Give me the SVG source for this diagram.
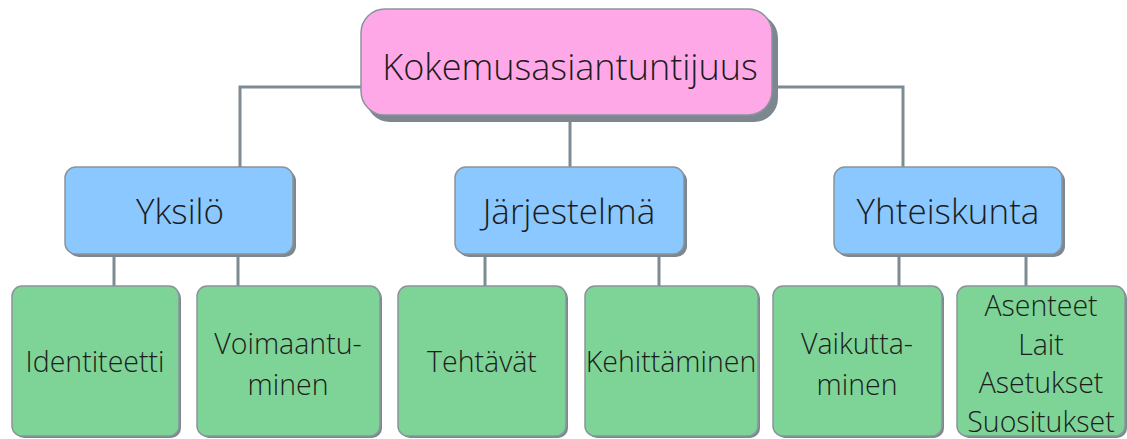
<svg xmlns="http://www.w3.org/2000/svg" width="1127" height="439" viewBox="0 0 1127 439">
<style>
.t{font-family:"Open Sans","Liberation Sans",sans-serif;font-weight:300;fill:#1c1c1c;text-anchor:middle}
.sh{fill:#7c8790}
.bd{stroke:#8a949c;stroke-width:1.5}
.root{fill:#FFA8E8}
.l2{fill:#8AC8FF}
.l3{fill:#7ED396}
.c{fill:none;stroke:#7f8b94;stroke-width:3}
.f3{font-size:28.5px}
.f2{font-size:35px}
</style>
<g id="connectors">
<path class="c" d="M362 87H240V168"/>
<path class="c" d="M772 87H903V168"/>
<path class="c" d="M570 115V168"/>
<path class="c" d="M114 254V287M238 254V287"/>
<path class="c" d="M485 254V287M659 254V287"/>
<path class="c" d="M899 254V287M1026 254V287"/>
</g>
<g id="root">
<rect class="sh" x="366" y="14" width="412" height="108" rx="24"/>
<rect class="root bd" x="361" y="9" width="411" height="106" rx="24"/>
<text class="t" x="570" y="80" font-size="36">Kokemusasiantuntijuus</text>
</g>
<g id="yksilo">
<rect class="sh" x="68" y="170" width="228" height="87" rx="11"/>
<rect class="l2 bd" x="65" y="167" width="228" height="87" rx="11"/>
<text class="t f2" x="180" y="224">Yksilö</text>
</g>
<g id="jarjestelma">
<rect class="sh" x="458" y="170" width="229" height="87" rx="11"/>
<rect class="l2 bd" x="455" y="167" width="229" height="87" rx="11"/>
<text class="t f2" x="569" y="224">Järjestelmä</text>
</g>
<g id="yhteiskunta">
<rect class="sh" x="837" y="170" width="228" height="87" rx="11"/>
<rect class="l2 bd" x="834" y="167" width="228" height="87" rx="11"/>
<text class="t f2" x="948" y="224">Yhteiskunta</text>
</g>
<g id="identiteetti">
<rect class="sh" x="14" y="288" width="167" height="150" rx="10"/>
<rect class="l3 bd" x="12" y="286" width="167" height="150" rx="10"/>
<text class="t f3" x="95" y="372">Identiteetti</text>
</g>
<g id="voimaantuminen">
<rect class="sh" x="199" y="288" width="183" height="150" rx="10"/>
<rect class="l3 bd" x="197" y="286" width="183" height="150" rx="10"/>
<text class="t f3" x="288" y="354">Voimaantu-</text>
<text class="t f3" x="288" y="395">minen</text>
</g>
<g id="tehtavat">
<rect class="sh" x="400" y="288" width="168" height="150" rx="10"/>
<rect class="l3 bd" x="398" y="286" width="168" height="150" rx="10"/>
<text class="t f3" x="482" y="372">Tehtävät</text>
</g>
<g id="kehittaminen">
<rect class="sh" x="587" y="288" width="173" height="150" rx="10"/>
<rect class="l3 bd" x="585" y="286" width="173" height="150" rx="10"/>
<text class="t f3" x="671" y="372">Kehittäminen</text>
</g>
<g id="vaikuttaminen">
<rect class="sh" x="775" y="288" width="169" height="150" rx="10"/>
<rect class="l3 bd" x="773" y="286" width="169" height="150" rx="10"/>
<text class="t f3" x="857" y="354">Vaikutta-</text>
<text class="t f3" x="857" y="395">minen</text>
</g>
<g id="asenteet">
<rect class="sh" x="959" y="288" width="168" height="150" rx="10"/>
<rect class="l3 bd" x="957" y="286" width="168" height="150" rx="10"/>
<text class="t f3" x="1041" y="316">Asenteet</text>
<text class="t f3" x="1041" y="355">Lait</text>
<text class="t f3" x="1041" y="393">Asetukset</text>
<text class="t f3" x="1041" y="432">Suositukset</text>
</g>
</svg>
